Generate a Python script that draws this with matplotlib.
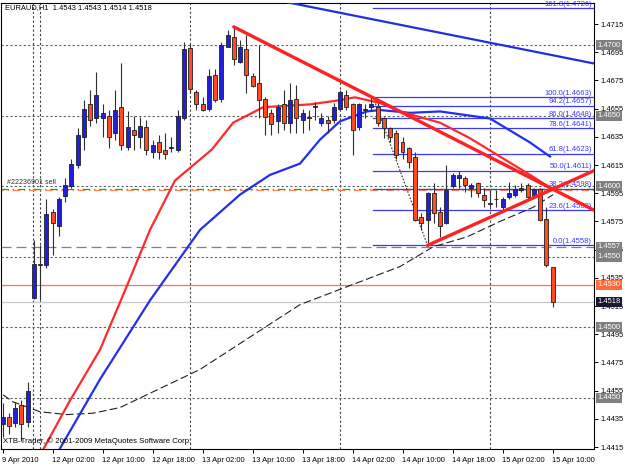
import matplotlib
matplotlib.use('Agg')
import matplotlib.pyplot as plt
from matplotlib.patches import Rectangle

plt.rcParams['font.family'] = ['Liberation Sans', 'DejaVu Sans']

# ---------------- data ----------------
opens = [1.4431, 1.4436, 1.4432, 1.4445, 1.4433, 1.4521, 1.4545, 1.4544, 1.4582, 1.4572,
         1.4593, 1.4600, 1.4615, 1.4635, 1.4658, 1.4648, 1.4648, 1.4650, 1.4638, 1.4656,
         1.4628, 1.4640, 1.4635, 1.4642, 1.4624, 1.4631, 1.4626, 1.4627, 1.4626, 1.4648,
         1.4698, 1.4667, 1.4658, 1.4655, 1.4679, 1.4662, 1.4699, 1.4706, 1.4688, 1.4697,
         1.4678, 1.4673, 1.4662, 1.4652, 1.4646, 1.4658, 1.4645, 1.4662, 1.4647, 1.4649,
         1.4657, 1.4645, 1.4647, 1.4647, 1.4655, 1.4665, 1.4658, 1.4642, 1.4654, 1.4656,
         1.4656, 1.4648, 1.4641, 1.4638, 1.4631, 1.4627, 1.4621, 1.4578, 1.4576, 1.4595,
         1.4582, 1.4574, 1.4600, 1.4606, 1.4606, 1.4599, 1.4602, 1.4594, 1.4588, 1.4591,
         1.4585, 1.4592, 1.4594, 1.4597, 1.4601, 1.4593, 1.4598, 1.4577, 1.4543]
highs = [1.4446, 1.4439, 1.4447, 1.4448, 1.4461, 1.4562, 1.4558, 1.4591, 1.4584, 1.4592,
         1.4606, 1.4619, 1.4641, 1.4661, 1.4668, 1.4681, 1.4658, 1.4654, 1.4668, 1.4687,
         1.4653, 1.4650, 1.4649, 1.4647, 1.4633, 1.4636, 1.4638, 1.4635, 1.4654, 1.4702,
         1.4701, 1.4668, 1.4663, 1.4683, 1.4683, 1.4702, 1.4711, 1.4713, 1.4704, 1.4707,
         1.4680, 1.4700, 1.4663, 1.4655, 1.4658, 1.4668, 1.4673, 1.4672, 1.4655, 1.4654,
         1.4660, 1.4652, 1.4650, 1.4659, 1.4668, 1.4668, 1.4659, 1.4659, 1.4658, 1.4663,
         1.4659, 1.4649, 1.4642, 1.4640, 1.4635, 1.4628, 1.4624, 1.4581, 1.4596, 1.4602,
         1.4585, 1.4615, 1.4609, 1.4611, 1.4607, 1.4602, 1.4603, 1.4599, 1.4597, 1.4597,
         1.4592, 1.4603, 1.4601, 1.4602, 1.4602, 1.4599, 1.4599, 1.4585, 1.4543]
lows = [1.4422, 1.4424, 1.4429, 1.4419, 1.4429, 1.4520, 1.4519, 1.4542, 1.4551, 1.4565,
        1.4589, 1.4599, 1.4613, 1.4626, 1.4643, 1.4645, 1.4635, 1.4627, 1.4633, 1.4626,
        1.4626, 1.4626, 1.4627, 1.4622, 1.4620, 1.4619, 1.4619, 1.4624, 1.4624, 1.4647,
        1.4667, 1.4654, 1.4653, 1.4653, 1.4660, 1.4660, 1.4699, 1.4686, 1.4687, 1.4666,
        1.4670, 1.4648, 1.4636, 1.4636, 1.4638, 1.4640, 1.4638, 1.4638, 1.4638, 1.4640,
        1.4647, 1.4643, 1.4638, 1.4645, 1.4654, 1.4654, 1.4622, 1.4640, 1.4648, 1.4653,
        1.4643, 1.4634, 1.4631, 1.4619, 1.4619, 1.4613, 1.4575, 1.4569, 1.4558, 1.4574,
        1.4564, 1.4573, 1.4599, 1.4599, 1.4596, 1.4592, 1.4592, 1.4585, 1.4585, 1.4585,
        1.4583, 1.4591, 1.4592, 1.4596, 1.4590, 1.4592, 1.4575, 1.4543, 1.4514]
closes = [1.4436, 1.4430, 1.4443, 1.4431, 1.4455, 1.4545, 1.4544, 1.4580, 1.4574, 1.4591,
          1.4601, 1.4616, 1.4636, 1.4655, 1.4647, 1.4665, 1.4652, 1.4635, 1.4654, 1.4629,
          1.4642, 1.4636, 1.4643, 1.4626, 1.4629, 1.4624, 1.4623, 1.4628, 1.4650, 1.4697,
          1.4669, 1.4658, 1.4654, 1.4678, 1.4661, 1.4700, 1.4707, 1.4690, 1.4699, 1.4679,
          1.4671, 1.4661, 1.4649, 1.4644, 1.4656, 1.4645, 1.4661, 1.4648, 1.4652, 1.4648,
          1.4656, 1.4648, 1.4645, 1.4656, 1.4667, 1.4656, 1.4640, 1.4658, 1.4655, 1.4658,
          1.4645, 1.4641, 1.4635, 1.4622, 1.4624, 1.4617, 1.4576, 1.4574, 1.4595, 1.4581,
          1.4572, 1.4597, 1.4608, 1.4608, 1.4601, 1.4601, 1.4595, 1.4590, 1.4587, 1.4591,
          1.4591, 1.4595, 1.4598, 1.4599, 1.4592, 1.4598, 1.4576, 1.4544, 1.4518]

time_labels = ["9 Apr 2010", "12 Apr 02:00", "12 Apr 10:00", "12 Apr 18:00", "13 Apr 02:00",
               "13 Apr 10:00", "13 Apr 18:00", "14 Apr 02:00", "14 Apr 10:00", "14 Apr 18:00",
               "15 Apr 02:00", "15 Apr 10:00"]
time_label_bars = [0, 8, 16, 24, 32, 40, 48, 56, 64, 72, 80, 88]
day_separator_bars = [4.9, 6, 30, 54, 78]

price_ticks = [1.4415, 1.4435, 1.4455, 1.4475, 1.4495, 1.4515, 1.4535, 1.4555, 1.4575,
               1.4595, 1.4615, 1.4635, 1.4655, 1.4675, 1.4695, 1.4715]

# moving averages (bar index, price)
red_ma_bars = [6.6, 10.8, 15.6, 19.6, 23.6, 27.6, 33.5, 36.9, 41.7, 49.2, 54.0, 56.4, 60.4,
               63.6, 70.0, 74.8, 79.6, 84.4, 87.6]
red_ma_vals = [1.4414, 1.4448, 1.4484, 1.4526, 1.4569, 1.4604, 1.4626, 1.4645, 1.4656, 1.4658,
               1.4661, 1.4663, 1.4659, 1.4653, 1.4645, 1.4634, 1.4621, 1.4608, 1.4599]
blue_ma_bars = [9.2, 15.6, 23.6, 31.6, 38.0, 42.8, 47.6, 50.8, 54.0, 58.3, 60.4, 65.2, 70.0, 78.0, 84.4, 87.6]
blue_ma_vals = [1.4414, 1.4463, 1.4519, 1.4569, 1.4594, 1.4608, 1.4616, 1.4633, 1.4646, 1.4653,
                1.4654, 1.4652, 1.4653, 1.4648, 1.4631, 1.4621]
black_ma_bars = [0.1, 1.7, 6.0, 10.3, 14.5, 18.8, 31.6, 47.6, 63.6, 68.9, 74.3, 79.6, 84.9, 88.1]
black_ma_vals = [1.4452, 1.4447, 1.4440, 1.4438, 1.4439, 1.4443, 1.4470, 1.4516, 1.4543, 1.4557,
                 1.4564, 1.4575, 1.4585, 1.4594]

# trend lines: (bar, price) anchors
red_down = [(37.0, 1.4713), (94.64, 1.4583)]
red_up = [(68.0, 1.4558), (94.64, 1.4611)]
blue_down = [(44.9, 1.4731), (94.64, 1.4687)]

# fibonacci
fib_start_bar = 59.3
fib_end_bar = 68.0
fib_levels = ["161.8", "100.0", "94.2", "86.0", "78.6", "61.8", "50.0", "38.2", "23.6", "0.0"]
fib_prices = [1.4726, 1.4663, 1.4657, 1.4648, 1.4641, 1.4623, 1.4611, 1.4598, 1.4583, 1.4558]

grid_levels = [1.4700, 1.4650, 1.4600, 1.4550, 1.4500, 1.4450]
hline_1 = 1.4557
alert_level = 1.4530
bid_price = 1.4518
order_price = 1.4598

# ---------------- figure ----------------
W, H = 625, 469
FS = 5.4
fig = plt.figure(figsize=(W / 100, H / 100), dpi=100)
fig.patch.set_facecolor('white')
L, R, T, B = 1, 594, 3, 449
ax = fig.add_axes([L / W, (H - B) / H, (R - L) / W, (B - T) / H])
ax.set_facecolor('white')
ax.set_xlim(-0.24, 94.64)
ax.set_ylim(1.44136, 1.47299)
for s in ax.spines.values():
    s.set_linewidth(0.8)
    s.set_color('#000000')

# y ticks on right
ax.yaxis.tick_right()
ax.set_yticks(price_ticks)
ax.set_yticklabels([f"{p:.4f}" for p in price_ticks])
ax.tick_params(axis='y', length=3, width=0.7, pad=1.5, labelsize=FS, colors='black')
ax.set_xticks(time_label_bars)
ax.set_xticklabels(time_labels)
ax.tick_params(axis='x', length=3, width=0.7, pad=2.5, labelsize=FS)
for lab in ax.get_xticklabels():
    lab.set_horizontalalignment('left')

# grid verticals (day separators)
for b in day_separator_bars:
    ax.axvline(b, color='#404040', lw=0.8, ls=(0, (2, 2)), zorder=1)
# horizontal grid levels
for g in grid_levels:
    ax.axhline(g, color='#606060', lw=0.8, ls=(0, (2, 2)), zorder=1)
ax.axhline(hline_1, color='#808080', lw=0.9, ls=(0, (8, 4)), zorder=1)
ax.axhline(alert_level, color='#ff7050', lw=0.9, zorder=1)
ax.axhline(bid_price, color='#c8c8d0', lw=0.9, zorder=1)
ax.axhline(order_price, color='#20a020', lw=0.9, ls=(0, (6, 3, 1, 3)), zorder=1)
ax.axhline(order_price - 0.0001, color='#ff8050', lw=0.9, ls=(4, (6, 3, 1, 3)), zorder=1)

# fibonacci lines
for lev, p in zip(fib_levels, fib_prices):
    ax.plot([fib_start_bar, 94.64], [p, p], color='#3a3aff', lw=0.9, zorder=2)
    ax.text(94.3, p + 0.00004, f"{lev}({p:.4f})", color='#3a3aff', fontsize=5.5,
            ha='right', va='bottom', zorder=6)
ax.plot([fib_start_bar, fib_end_bar], [fib_prices[1], fib_prices[-1]], color='#303030',
        lw=0.8, ls=(0, (1.5, 1.5)), zorder=2)

# moving averages
ax.plot(black_ma_bars, black_ma_vals, color='#202020', lw=0.8, ls=(0, (7, 3)), zorder=3)
ax.plot(blue_ma_bars, blue_ma_vals, color='#2030f0', lw=1.6, zorder=3)
ax.plot(red_ma_bars, red_ma_vals, color='#ff2a2a', lw=1.6, zorder=3)

# candles
for i, (o, h, l, c) in enumerate(zip(opens, highs, lows, closes)):
    bull = c >= o
    ax.plot([i, i], [l, h], color='#303030', lw=0.8, zorder=4, solid_capstyle='butt')
    fc = '#2020d8' if bull else '#ff4a22'
    lo, hi = min(o, c), max(o, c)
    ax.add_patch(Rectangle((i - 0.32, lo), 0.64, max(hi - lo, 0.00002), facecolor=fc,
                           edgecolor='#202020', lw=0.6, zorder=5))

# trend lines
for (a, b) in [red_down, red_up]:
    ax.plot([a[0], b[0]], [a[1], b[1]], color='#ff2020', lw=2.4, zorder=6, solid_capstyle='round')
ax.plot([blue_down[0][0], blue_down[1][0]], [blue_down[0][1], blue_down[1][1]],
        color='#2030e0', lw=1.6, zorder=6)

# right side price boxes
ytr = ax.get_yaxis_transform()
def pbox(p, fc, tc='white'):
    ax.text(1.006, p, f"{p:.4f}", transform=ytr, ha='left', va='center', fontsize=FS,
            color=tc, zorder=10, clip_on=False,
            bbox=dict(boxstyle='square,pad=0.2', fc=fc, ec='none'))
for g in grid_levels:
    pbox(g, '#808080')
pbox(hline_1, '#808080')
pbox(alert_level, '#ff6a3a')
pbox(bid_price, '#181830')

# texts
fig.text(5 / W, 1 - 8 / H, "EURAUD,H1  1.4543 1.4543 1.4514 1.4518", fontsize=FS,
         ha='left', va='center', color='#000000')
ax.text(6 / 593, order_price + 0.00018, "#22236901 sell", fontsize=5.1, color='#303030',
        transform=ytr, ha='left', va='bottom')
fig.text(3 / W, 1 - 441 / H, "XTB-Trader, \u00a9 2001-2009 MetaQuotes Software Corp.",
         fontsize=5.6, ha='left', va='center', color='#000000')

fig.savefig('out.png', dpi=100)
